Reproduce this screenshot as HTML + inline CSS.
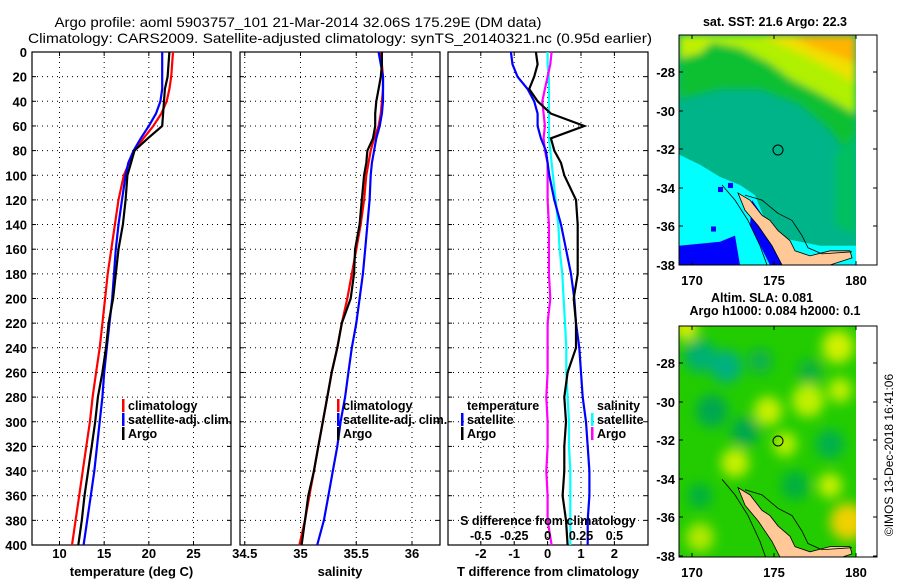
<!DOCTYPE html>
<html><head><meta charset="utf-8"><style>
body{margin:0;background:#fff;}
svg{display:block;font-family:"Liberation Sans",sans-serif;font-weight:bold;}
</style></head><body>
<svg id="fig" width="900" height="580" viewBox="0 0 900 580" xmlns="http://www.w3.org/2000/svg">
<defs>
<filter id="blur" x="-10%" y="-10%" width="120%" height="120%"><feGaussianBlur stdDeviation="6"/></filter>
<filter id="blur2"><feGaussianBlur stdDeviation="4"/></filter>
<clipPath id="m1clip"><rect x="679" y="32" width="177" height="227"/></clipPath>
<clipPath id="m2clip"><rect x="679" y="316" width="177" height="223"/></clipPath>
</defs>
<text x="298" y="27" text-anchor="middle" font-size="14" font-weight="normal" textLength="487" lengthAdjust="spacingAndGlyphs">Argo profile: aoml 5903757_101 21-Mar-2014 32.06S 175.29E (DM data)</text>
<text x="340" y="43" text-anchor="middle" font-size="14" font-weight="normal" textLength="624" lengthAdjust="spacingAndGlyphs">Climatology: CARS2009. Satellite-adjusted climatology: synTS_20140321.nc (0.95d earlier)</text>
<g id="plots"></g>
<g id="maps"></g>
</svg>
<script>
const depths=[0,10,20,30,40,50,60,70,80,90,100,120,140,160,180,200,220,240,260,280,300,320,340,360,380,400];
const tempClim=[22.7,22.6,22.5,22.3,22.0,21.4,20.5,19.4,18.4,17.8,17.2,16.6,16.2,15.8,15.4,15.1,14.8,14.5,14.1,13.7,13.4,13.0,12.6,12.2,11.8,11.4];
const tempSat=[21.5,21.5,21.5,21.5,21.3,20.8,20.0,19.1,18.3,17.7,17.4,17.0,16.6,16.3,16.1,15.9,15.6,15.3,15.0,14.8,14.5,14.2,13.9,13.5,13.1,12.7];
const tempArgo=[22.3,22.2,22.1,21.8,21.7,21.6,21.5,19.9,18.4,18.0,17.6,17.4,17.1,16.6,16.3,16.0,15.5,15.2,14.8,14.3,14.0,13.6,13.2,12.8,12.5,12.1];
const salClim=[35.72,35.73,35.74,35.74,35.73,35.72,35.70,35.66,35.63,35.61,35.59,35.57,35.54,35.50,35.46,35.42,35.37,35.33,35.28,35.24,35.20,35.16,35.12,35.08,35.04,34.99];
const salSat=[35.70,35.72,35.74,35.74,35.74,35.73,35.71,35.68,35.66,35.64,35.63,35.62,35.60,35.58,35.56,35.53,35.50,35.46,35.43,35.40,35.36,35.33,35.29,35.25,35.21,35.15];
const salArgo=[35.73,35.73,35.72,35.70,35.68,35.67,35.67,35.65,35.60,35.59,35.57,35.55,35.53,35.49,35.48,35.45,35.37,35.33,35.28,35.24,35.20,35.16,35.12,35.07,35.04,35.01];
const tDiffSat=[-1.1,-1.05,-0.9,-0.6,-0.4,-0.3,-0.3,-0.2,-0.05,0,0.05,0.2,0.4,0.55,0.7,0.8,0.85,0.95,1.0,1.05,1.15,1.2,1.25,1.25,1.2,1.2];
const tDiffArgo=[-0.35,-0.3,-0.4,-0.55,-0.3,0.1,1.1,0.1,0.2,0.4,0.5,0.85,0.9,0.9,0.9,0.78,0.85,0.85,0.6,0.5,0.55,0.5,0.5,0.45,0.55,0.6];
const sDiffSat=[0.0,0.0,0.01,0.01,0.01,0.01,0.01,0.01,0.02,0.03,0.04,0.06,0.08,0.09,0.11,0.12,0.13,0.14,0.14,0.15,0.16,0.16,0.17,0.17,0.17,0.17];
const sDiffArgo=[0.03,0.02,0.0,-0.02,-0.04,-0.03,-0.02,-0.03,-0.02,0,0.0,0.0,0.01,0.01,0.01,0.02,0.0,0.0,0.0,-0.01,0.0,0.0,-0.01,0.0,0.0,0.03];
const depthTicks=[0,20,40,60,80,100,120,140,160,180,200,220,240,260,280,300,320,340,360,380,400];
const tempTicks=[10,15,20,25];
const salTicks=[34.5,35,35.5,36];
const tdTicks=[-2,-1,0,1,2];
const sdTicks=[-0.5,-0.25,0,0.25,0.5];
const sdLabels=["-0.5","-0.25","0","0.25","0.5"];

const NS="http://www.w3.org/2000/svg";
const plots=document.getElementById('plots');
function el(tag,attrs,parent,txt){const e=document.createElementNS(NS,tag);for(const k in attrs)e.setAttribute(k,attrs[k]);if(txt!==undefined)e.textContent=txt;(parent||plots).appendChild(e);return e;}
const Y0=52,Y1=545;
const yD=d=>Y0+(d/400)*(Y1-Y0);
function lin(d0,d1,p0,p1){return v=>p0+(v-d0)/(d1-d0)*(p1-p0);}

function panel(name,x0,x1,xs,ticks,labels,ylabels,title){
  const g=el('g',{});
  
  
  depthTicks.forEach(d=>{if(d>0&&d<400){const l=el('line',{x1:x0,x2:x1,y1:yD(d),y2:yD(d),stroke:'#000','stroke-dasharray':'1,4','stroke-width':1},g);}
    el('line',{x1:x0,x2:x0+4,y1:yD(d),y2:yD(d),stroke:'#000'},g);el('line',{x1:x1-4,x2:x1,y1:yD(d),y2:yD(d),stroke:'#000'},g);
    if(ylabels){const t=el('text',{x:x0-5,y:yD(d)+5,'text-anchor':'end','font-size':13},g,String(d));}});
  ticks.forEach((v,i)=>{const x=xs(v);
    if(x>x0+2&&x<x1-2){const l=el('line',{x1:x,x2:x,y1:Y0,y2:Y1,stroke:'#000','stroke-dasharray':'1,4'},g);}
    el('line',{x1:x,x2:x,y1:Y1-4,y2:Y1,stroke:'#000'},g);el('line',{x1:x,x2:x,y1:Y0,y2:Y0+4,stroke:'#000'},g);
    const t=el('text',{x:x,y:Y1+13,'text-anchor':'middle','font-size':13},g,labels[i]);});
  const r=el('rect',{x:x0,y:Y0,width:x1-x0,height:Y1-Y0,fill:'none',stroke:'#000','stroke-width':1.2},g);
  
  const t=el('text',{x:(x0+x1)/2,y:576,'text-anchor':'middle','font-size':13},g,title);
  
  return g;
}
function series(g,xs,vals,color,name){
  let d='';vals.forEach((v,i)=>{d+=(i?'L':'M')+xs(v).toFixed(1)+','+yD(depths[i]).toFixed(1);});
  const p=el('path',{d:d,fill:'none',stroke:color,'stroke-width':2.2},g);
  
  
}
function legend(g,x,y,items){
  items.forEach((it,i)=>{
    const yy=y+i*14;
    if(it.c){el('rect',{x:x,y:yy-11,width:2.5,height:13,fill:it.c},g);}
    const t=el('text',{x:x+6,y:yy,'font-size':12.5},g,it.t);
    
    
  });
}
// panel 1
const xT=lin(10,25,59.5,193.5);
const g1=panel('temperature-panel',32,231,xT,tempTicks,tempTicks.map(String),true,'temperature (deg C)');
series(g1,xT,tempClim,'#ff0000','temp-climatology-line');
series(g1,xT,tempSat,'#0000ff','temp-satellite-line');
series(g1,xT,tempArgo,'#000000','temp-argo-line');
legend(g1,122,410,[{c:'#f00',t:'climatology'},{c:'#00f',t:'satellite-adj. clim.'},{c:'#000',t:'Argo'}]);
// panel 2
const xS=lin(35,36,300.5,412);
const g2=panel('salinity-panel',240,440,xS,salTicks,salTicks.map(String),false,'salinity');
series(g2,xS,salClim,'#ff0000','sal-climatology-line');
series(g2,xS,salSat,'#0000ff','sal-satellite-line');
series(g2,xS,salArgo,'#000000','sal-argo-line');
legend(g2,337,410,[{c:'#f00',t:'climatology'},{c:'#00f',t:'satellite-adj. clim.'},{c:'#000',t:'Argo'}]);
// panel 3
const xTD=lin(0,1,547.6,581);
const xSD=v=>xTD(v*4);
const g3=panel('difference-panel',448,648,xTD,tdTicks,tdTicks.map(String),false,'T difference from climatology');
series(g3,xSD,sDiffSat,'#00ffff','s-diff-satellite-line');
series(g3,xSD,sDiffArgo,'#ff00ff','s-diff-argo-line');
series(g3,xTD,tDiffSat,'#0000ff','t-diff-satellite-line');
series(g3,xTD,tDiffArgo,'#000000','t-diff-argo-line');
legend(g3,461,410,[{t:'temperature'},{c:'#00f',t:'satellite'},{c:'#000',t:'Argo'}]);
legend(g3,591,410,[{t:'salinity'},{c:'#0ff',t:'satellite'},{c:'#f0f',t:'Argo'}]);
sdTicks.forEach((v,i)=>{const t=el('text',{x:xSD(v),y:540,'text-anchor':'middle','font-size':12.5},g3,sdLabels[i]);});
{const t=el('text',{x:548,y:525,'text-anchor':'middle','font-size':12.5},g3,'S difference from climatology');}

// maps
const maps=document.getElementById('maps');
function mapAxes(name,top,bottom,latTicksY,title1,title2){
  const g=el('g',{},maps);
  
  
  el('rect',{x:679,y:top,width:198,height:bottom-top,fill:'none',stroke:'#000'},g);
  [[170,692],[175,774],[180,856]].forEach(([l,x])=>{
    el('line',{x1:x,x2:x,y1:bottom,y2:bottom-4,stroke:'#000'},g);el('line',{x1:x,x2:x,y1:top,y2:top+4,stroke:'#000'},g);
    const t=el('text',{x:x,y:bottom+20,'text-anchor':'middle','font-size':13},g,String(l));});
  latTicksY.forEach(([l,y])=>{
    el('line',{x1:679,x2:683,y1:y,y2:y,stroke:'#000'},g);el('line',{x1:873,x2:877,y1:y,y2:y,stroke:'#000'},g);
    const t=el('text',{x:675,y:y+5,'text-anchor':'end','font-size':13},g,String(l));});
  const t=el('text',{x:775,y:top-9,'text-anchor':'middle','font-size':12.5},g,title1);
  if(title2){const t2=el('text',{x:762,y:top-24,'text-anchor':'middle','font-size':12.5},g,title2);t.setAttribute('y',top-11);}
  return g;
}
const LAND1='738,188 750,195 762,210 770,215 778,225 790,235 795,245 810,250 830,245 850,245 852,252 830,259 782,259 772,240 758,220 745,205';
maps.insertAdjacentHTML('beforeend',`
<g transform="translate(0,35) scale(1,1.0132) translate(0,-32)">
<g clip-path="url(#m1clip)">
<rect x="679" y="32" width="177" height="227" fill="#00b48a"/>
<g filter="url(#blur2)">
<polygon points="679,32 856,32 856,160 830,125 800,100 760,85 720,85 679,95" fill="#10c030"/>
<polygon points="700,32 856,32 856,110 820,90 790,75 770,60 740,45 715,40" fill="#b0f000"/>
<polygon points="679,32 720,32 700,50 679,55" fill="#c0f000"/>
<polygon points="760,32 856,32 856,80 830,65 800,50" fill="#f0e000"/>
<polygon points="790,32 856,32 856,60 835,52 815,45" fill="#ffb400"/>
<polygon points="835,150 856,130 856,230 835,220" fill="#00c060"/>
</g>
<polygon points="679,150 700,160 720,172 740,180 755,190 765,215 778,240 786,259 679,259" fill="#00ffff"/>
<polygon points="780,232 820,240 856,240 856,259 786,259" fill="#00ffff"/>
<polygon points="679,240 720,236 735,230 740,259 679,259" fill="#0000ff"/>
<polygon points="752,195 766,215 776,240 782,259 770,259 750,220" fill="#0000ff"/>
<rect x="711" y="221" width="5" height="5" fill="#00f"/><rect x="728" y="178" width="5" height="5" fill="#00f"/>
<rect x="718" y="182" width="5" height="5" fill="#00f"/>
<polygon points="${LAND1}" fill="#ffc896" stroke="#000" stroke-width="0.8"/>
<polyline points="722,180 735,195 748,215 760,240 767,259" fill="none" stroke="#000" stroke-width="0.8"/>
<polyline points="745,190 762,195 778,208 792,215 802,230 808,242 822,248 852,246" fill="none" stroke="#000" stroke-width="0.8"/>
<rect x="856" y="32" width="21" height="227" fill="#fff"/>
</g></g>
<g transform="translate(0,326) scale(1,1.0359) translate(0,-316)">
<g clip-path="url(#m2clip)">
<rect x="679" y="316" width="177" height="223" fill="#22cc00"/>
<g filter="url(#blur)">
<circle cx="700" cy="345" r="16" fill="#00b070"/><circle cx="726" cy="355" r="16" fill="#00b080"/>
<circle cx="686" cy="318" r="12" fill="#d8ee00"/><circle cx="838" cy="336" r="16" fill="#d0f000"/>
<circle cx="760" cy="350" r="12" fill="#10b050"/><circle cx="808" cy="388" r="16" fill="#c0f000"/>
<circle cx="768" cy="398" r="14" fill="#c8f000"/><circle cx="840" cy="378" r="12" fill="#c0f000"/>
<circle cx="712" cy="398" r="16" fill="#00a850"/><circle cx="745" cy="418" r="14" fill="#00a850"/>
<circle cx="785" cy="430" r="12" fill="#b8f000"/><circle cx="735" cy="448" r="14" fill="#c8f000"/>
<circle cx="830" cy="430" r="14" fill="#00b050"/><circle cx="700" cy="480" r="12" fill="#00b040"/>
<circle cx="795" cy="470" r="14" fill="#00b040"/><circle cx="848" cy="505" r="18" fill="#f0d000"/>
<circle cx="700" cy="520" r="14" fill="#b0e800"/><circle cx="830" cy="470" r="12" fill="#c8f000"/>
<circle cx="810" cy="360" r="12" fill="#10b040"/>
</g>
<g transform="translate(0,284)">
<polygon points="${LAND1}" fill="#ffc896" stroke="#000" stroke-width="0.8"/>
<polyline points="722,180 735,195 748,215 760,240 767,259" fill="none" stroke="#000" stroke-width="0.8"/>
<polyline points="745,190 762,195 778,208 792,215 802,230 808,242 822,248 852,246" fill="none" stroke="#000" stroke-width="0.8"/>
</g>
<rect x="856" y="316" width="21" height="223" fill="#fff"/>
</g></g>
<circle cx="778" cy="150" r="5" fill="none" stroke="#000"/>
<circle cx="778" cy="441" r="5" fill="none" stroke="#000"/>
`);
mapAxes('sst-map-axes',35,265,[[-28,72],[-30,111],[-32,149],[-34,188],[-36,226],[-38,265]],'sat. SST: 21.6 Argo: 22.3');
mapAxes('sla-map-axes',326,557,[[-28,363],[-30,402],[-32,440],[-34,479],[-36,517],[-38,556]],'Argo h1000: 0.084 h2000: 0.1','Altim. SLA: 0.081');
{const t=el('text',{x:893,y:455,'font-size':12,'font-weight':'normal',transform:'rotate(-90 893 455)','text-anchor':'middle'},maps,'©IMOS 13-Dec-2018 16:41:06');
}
</script>
</body></html>
